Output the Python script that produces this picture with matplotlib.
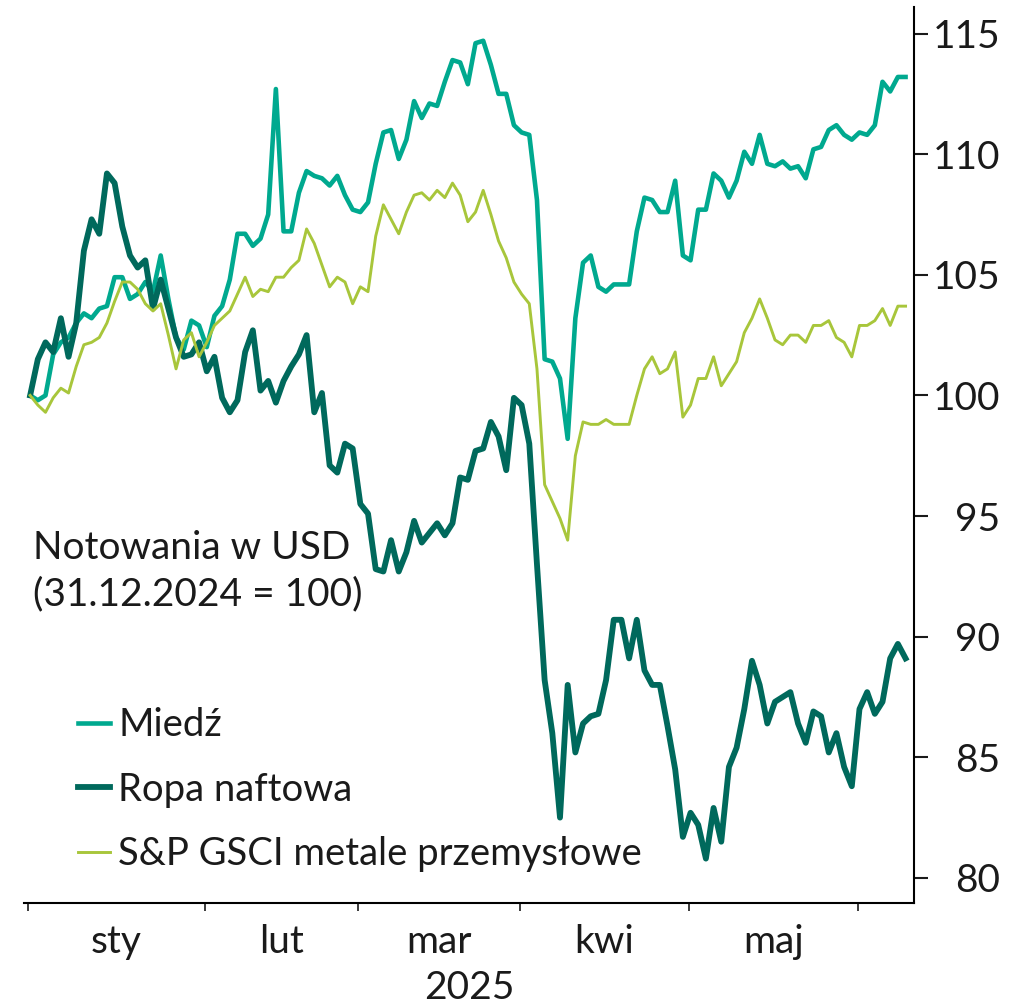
import numpy as np
import pandas as pd
import matplotlib
matplotlib.use('Agg')
import matplotlib.pyplot as plt

# sesje od 31.12.2024 do 09.06.2025 (dni robocze)
dates = pd.bdate_range('2024-12-31', '2025-06-09')

miedz = [100.0, 99.8, 100.0, 101.7, 102.2, 102.4, 103.0, 103.4, 103.2, 103.6,
         103.7, 104.9, 104.9, 104.0, 104.2, 104.7, 104.3, 105.8, 104.0, 102.4,
         101.9, 103.1, 102.9, 102.0, 103.3, 103.7, 104.8, 106.7, 106.7, 106.2,
         106.5, 107.5, 112.7, 106.8, 106.8, 108.4, 109.3, 109.1, 109.0, 108.7,
         109.1, 108.3, 107.7, 107.6, 108.0, 109.6, 110.9, 111.0, 109.8, 110.6,
         112.2, 111.5, 112.1, 112.0, 113.0, 113.9, 113.8, 112.9, 114.6, 114.7,
         113.7, 112.5, 112.5, 111.2, 110.9, 110.8, 108.1, 101.5, 101.4, 100.7,
         98.2, 103.2, 105.5, 105.8, 104.5, 104.3, 104.6, 104.6, 104.6, 106.8,
         108.2, 108.1, 107.6, 107.6, 108.9, 105.8, 105.6, 107.7, 107.7, 109.2,
         108.9, 108.2, 108.9, 110.1, 109.6, 110.8, 109.6, 109.5, 109.7, 109.4,
         109.5, 109.0, 110.2, 110.3, 111.0, 111.2, 110.8, 110.6, 110.9, 110.8,
         111.2, 113.0, 112.6, 113.2, 113.2]

ropa = [100.0, 101.5, 102.2, 101.8, 103.2, 101.6, 103.0, 106.0, 107.3, 106.7,
        109.2, 108.8, 107.0, 105.8, 105.3, 105.6, 103.6, 104.8, 103.6, 102.4,
        101.6, 101.7, 102.2, 101.0, 101.6, 99.9, 99.3, 99.8, 101.8, 102.7,
        100.2, 100.6, 99.7, 100.6, 101.2, 101.7, 102.5, 99.3, 100.1, 97.1,
        96.8, 98.0, 97.8, 95.5, 95.1, 92.8, 92.7, 94.0, 92.7, 93.5,
        94.8, 93.9, 94.3, 94.7, 94.2, 94.7, 96.6, 96.5, 97.7, 97.8,
        98.9, 98.3, 96.9, 99.9, 99.6, 98.0, 93.0, 88.2, 86.0, 82.5,
        88.0, 85.2, 86.4, 86.7, 86.8, 88.2, 90.7, 90.7, 89.1, 90.7,
        88.6, 88.0, 88.0, 86.3, 84.5, 81.7, 82.7, 82.2, 80.8, 82.9,
        81.5, 84.6, 85.4, 87.0, 89.0, 88.0, 86.4, 87.3, 87.5, 87.7,
        86.4, 85.6, 86.9, 86.7, 85.2, 86.0, 84.6, 83.8, 87.0, 87.7,
        86.8, 87.3, 89.1, 89.7, 89.1]

gsci = [100.0, 99.6, 99.3, 99.9, 100.3, 100.1, 101.2, 102.1, 102.2, 102.4,
        103.0, 103.9, 104.7, 104.7, 104.4, 103.8, 103.5, 103.8, 102.5, 101.1,
        102.3, 102.6, 101.6, 102.2, 102.9, 103.2, 103.5, 104.2, 104.9, 104.1,
        104.4, 104.3, 104.9, 104.9, 105.3, 105.6, 106.9, 106.3, 105.4, 104.5,
        104.9, 104.7, 103.8, 104.5, 104.3, 106.6, 107.9, 107.3, 106.7, 107.6,
        108.3, 108.4, 108.1, 108.5, 108.2, 108.8, 108.3, 107.2, 107.6, 108.5,
        107.5, 106.4, 105.7, 104.7, 104.2, 103.8, 101.1, 96.3, 95.6, 94.9,
        94.0, 97.5, 98.9, 98.8, 98.8, 99.0, 98.8, 98.8, 98.8, 100.0,
        101.1, 101.6, 100.9, 101.1, 101.8, 99.1, 99.6, 100.7, 100.7, 101.6,
        100.4, 100.9, 101.4, 102.6, 103.2, 104.0, 103.2, 102.3, 102.1, 102.5,
        102.5, 102.2, 102.9, 102.9, 103.1, 102.4, 102.2, 101.6, 102.9, 102.9,
        103.1, 103.6, 102.9, 103.7, 103.7]

months = ['sty', 'lut', 'mar', 'kwi', 'maj']

plt.rcParams['font.family'] = ['Lato', 'DejaVu Sans']
txt = '#1a1a1a'

fig = plt.figure(figsize=(10.25, 10.08), dpi=100)
ax = fig.add_axes([24 / 1025, 1 - 903 / 1008, 890 / 1025, 896 / 1008])

x = np.arange(len(dates))
l_m, = ax.plot(x, miedz, color='#00a98f', lw=3.3, label='Miedź', zorder=2)
l_r, = ax.plot(x, ropa, color='#00695c', lw=4.2, label='Ropa naftowa', zorder=3)
l_g, = ax.plot(x, gsci, color='#a8c63b', lw=2.1,
               label='S&P GSCI metale przemysłowe', zorder=4)

ax.set_xlim(-0.8, 115.1)
ax.set_ylim(78.96, 116.1)

# granice miesięcy (ostatnia sesja poprzedniego miesiąca)
per = dates.to_period('M')
bounds = [0] + [int(np.where(per == p)[0][-1]) for p in per.unique()[1:-1]]
bounds = np.array(bounds) - 0.25
centers = (bounds[:-1] + bounds[1:]) / 2

ax.set_xticks(bounds)
ax.set_xticklabels([])
ax.set_xticks(centers, minor=True)
ax.set_xticklabels(months, minor=True)
ax.tick_params(axis='x', which='major', direction='out', length=6, width=1.2, color=txt)
ax.tick_params(axis='x', which='minor', length=0, pad=15, labelsize=28, labelcolor=txt)
ax.set_xlabel('2025', fontsize=28, color=txt, labelpad=7)

ax.yaxis.tick_right()
ax.set_yticks(np.arange(80, 116, 5))
ax.tick_params(axis='y', direction='out', length=10, width=1.5, color=txt,
               pad=52, labelsize=28, labelcolor=txt)
for lab in ax.get_yticklabels():
    lab.set_horizontalalignment('right')

for s in ['left', 'top']:
    ax.spines[s].set_visible(False)
ax.spines['right'].set_linewidth(1.5)
ax.spines['bottom'].set_linewidth(1.5)

fig.text(33 / 1025, 1 - 530 / 1008, 'Notowania w USD\n(31.12.2024 = 100)',
         va='top', ha='left', fontsize=28, color=txt, linespacing=1.35)

ax.legend(handles=[l_m, l_r, l_g], loc='upper left',
          bbox_to_anchor=(78 / 1025, 1 - 707 / 1008), bbox_transform=fig.transFigure,
          frameon=False, fontsize=27.5, handlelength=0.85, handletextpad=0.2,
          labelspacing=0.75, borderpad=0, borderaxespad=0, labelcolor=txt)

fig.savefig('out.png', dpi=100)
